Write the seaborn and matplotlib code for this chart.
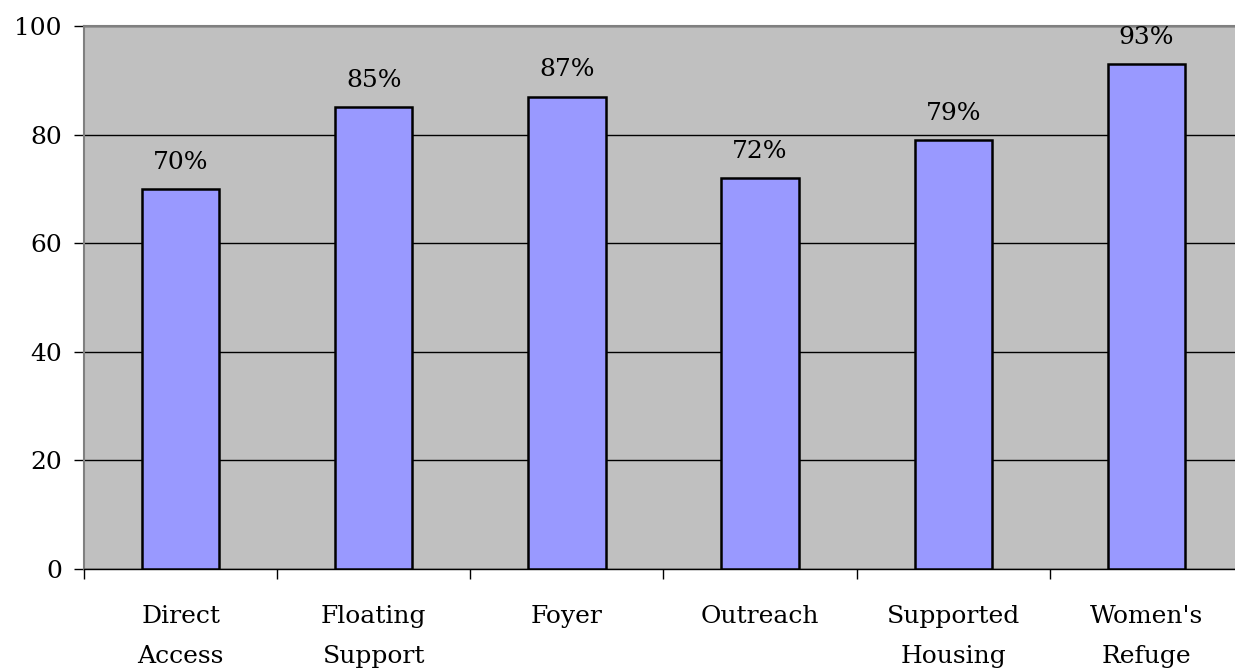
import pandas as pd
import seaborn as sns
import matplotlib.pyplot as plt
import numpy as np

categorias = ["Direct\nAccess", "Floating\nSupport", "Foyer", "Outreach",
              "Supported\nHousing", "Women's\nRefuge"]
porcentajes = [70, 85, 87, 72, 79, 93]
etiquetas = ["70%", "85%", "87%", "72%", "79%", "93%"]

df = pd.DataFrame({"Servicio": categorias, "Porcentaje": porcentajes})

sns.set_style("white")
plt.rcParams['font.family'] = ['DejaVu Serif']
plt.rcParams['text.color'] = 'black'
plt.rcParams['xtick.color'] = 'black'
plt.rcParams['ytick.color'] = 'black'

fig = plt.figure(figsize=(12.35, 6.72), dpi=100)
ax = fig.add_axes([84 / 1235, 1 - 569 / 672, 1159 / 1235, 543 / 672])
ax.set_facecolor("#c0c0c0")

sns.barplot(data=df, x="Servicio", y="Porcentaje", color="#9999ff",
            saturation=1, width=0.4, edgecolor="black", linewidth=1.8,
            ax=ax, zorder=3)

ax.set_ylim(0, 100)
ax.set_xlim(-0.5, len(categorias) - 0.5)
ax.set_yticks([0, 20, 40, 60, 80, 100])
ax.yaxis.grid(True, color="black", linewidth=1)
ax.set_axisbelow(True)

# etiquetas encima de cada barra
for i, (v, txt) in enumerate(zip(porcentajes, etiquetas)):
    ax.annotate(txt, (i, v), xytext=(0, 11), textcoords="offset points",
                ha="center", va="bottom", fontsize=18, color="black")

# ticks menores en los limites de las categorias
ax.set_xticks(np.arange(-0.5, len(categorias), 1), minor=True)
ax.tick_params(axis="x", which="minor", length=7, width=1, color="black",
               direction="out", bottom=True)
ax.tick_params(axis="x", which="major", length=0, pad=26, labelsize=18)
ax.tick_params(axis="y", length=7, width=1, color="black", direction="out",
               left=True, labelsize=18, pad=9)
for lbl in ax.get_xticklabels():
    lbl.set_linespacing(1.95)
    lbl.set_verticalalignment("top")

for s in ["left", "bottom", "top"]:
    ax.spines[s].set_color("#808080")
    ax.spines[s].set_linewidth(1.5)
ax.spines["right"].set_visible(False)
ax.spines["bottom"].set_color("black")
ax.spines["bottom"].set_linewidth(1)

ax.set_xlabel("")
ax.set_ylabel("")

fig.savefig("out.png", dpi=100)
